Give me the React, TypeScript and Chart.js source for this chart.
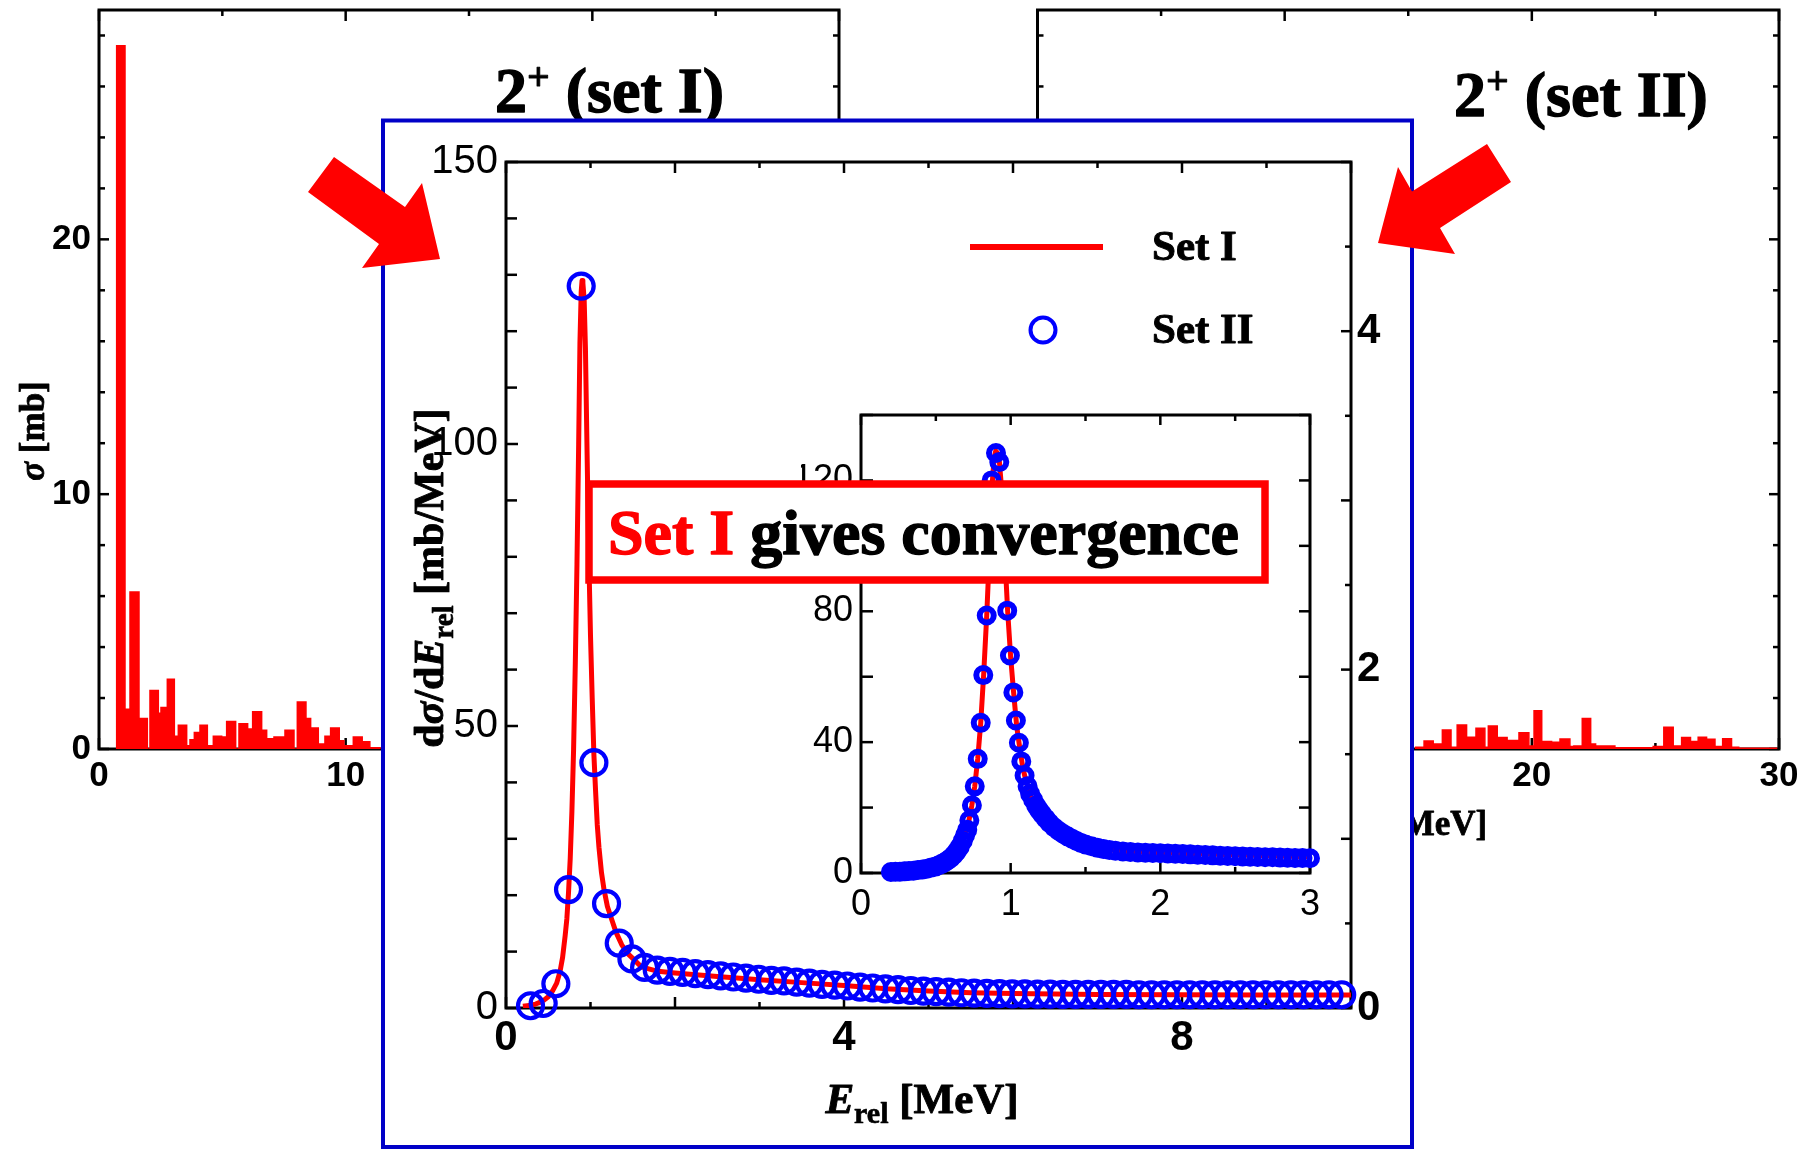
import React, { useEffect, useRef } from 'react';
import { Chart, registerables } from 'chart.js';

Chart.register(...registerables);

const PAGE_W = 1802;
const PAGE_H = 1149;

const RED = '#ff0000';
const BLUE = '#0000ff';
const FRAME_BLUE = '#0000c8';
const SANS = '"Liberation Sans", Arial, sans-serif';
const SERIF = '"Liberation Serif", "Times New Roman", serif';

// ---- σ per continuum bin (edges in MeV, σ in mb) ----
const setIBinEdges = [
  0.716, 1.054, 1.257, 1.621, 1.959, 2.067, 2.405, 2.513, 2.77, 3.054,
  3.216, 3.554, 3.689, 3.865, 4.094, 4.392, 4.635, 4.973, 5.175, 5.54,
  5.675, 6.026, 6.229, 6.594, 6.797, 7.094, 7.54, 7.905, 8.04, 8.39,
  8.58, 8.89, 9.16, 9.39, 9.74, 9.93, 10.31, 10.67, 10.98, 11.39,
];
const setISigma = [
  27.6, 1.56, 6.16, 1.2, 0.0, 2.3, 1.4, 1.63, 2.74, 0.5,
  0.93, 0.13, 0.36, 0.65, 0.93, 0.13, 0.5, 0.47, 1.08, 0.0,
  0.99, 0.78, 1.46, 0.74, 0.4, 0.47, 0.74, 0.0, 1.84, 1.2,
  0.82, 0.2, 0.5, 0.82, 0.32, 0.13, 0.47, 0.28, 0.05,
];
const setIIBinEdges = [
  15.3, 15.64, 16.01, 16.38, 16.73, 16.98, 17.36, 17.74, 18.1, 18.24,
  18.6, 19.0, 19.48, 19.88, 20.09, 20.4, 20.8, 21.14, 21.54, 21.7,
  22.04, 22.38, 22.58, 23.36, 24.17, 24.91, 25.34, 25.72, 26.06, 26.42,
  26.73, 27.07, 27.41, 27.72, 28.08, 28.37, 29.9,
];
const setIISigma = [
  0.07, 0.31, 0.2, 0.75, 0.07, 0.94, 0.46, 0.81, 0.07, 0.9,
  0.45, 0.33, 0.64, 0.12, 1.5, 0.29, 0.26, 0.39, 0.1, 0.12,
  1.2, 0.2, 0.12, 0.05, 0.05, 0.1, 0.85, 0.12, 0.45, 0.29,
  0.46, 0.38, 0.1, 0.4, 0.07, 0.03,
];

// ---- dσ/dE_rel [mb/MeV] ----
const setICurveE = [
  0.2, 0.25, 0.3, 0.35, 0.4, 0.45, 0.5, 0.55, 0.6, 0.64,
  0.67, 0.7, 0.72, 0.74, 0.76, 0.78, 0.8, 0.82, 0.84, 0.86,
  0.875, 0.89, 0.9, 0.91, 0.925, 0.94, 0.96, 0.98, 1.0, 1.02,
  1.04, 1.06, 1.08, 1.1, 1.13, 1.16, 1.2, 1.26, 1.3, 1.37,
  1.45, 1.5, 1.6, 1.8, 2.0, 2.5, 3.0, 3.5, 4.0, 4.5,
  5.0, 5.5, 6.0, 7.0, 8.0, 9.0, 10.0,
];
const setICurve = [
  0.3, 0.4, 0.5, 0.7, 1.0, 1.4, 2.0, 3.0, 4.4, 6.5,
  9.0, 12.8, 15.8, 20.5, 26.5, 34.9, 45.9, 61.0, 78.7, 100,
  118, 127, 129, 128.5, 125.6, 117, 98, 80, 66, 55,
  45, 38.5, 32.5, 28.5, 24, 21, 18, 15.3, 13.5, 11.2,
  9.5, 8.8, 7.3, 6.5, 6.2, 5.6, 5.0, 4.5, 4.0, 3.4,
  3.0, 2.7, 2.55, 2.4, 2.35, 2.3, 2.3,
];
const setIIE = [
  0.29, 0.44, 0.59, 0.74, 0.89, 1.04, 1.19, 1.34, 1.49, 1.64,
  1.79, 1.94, 2.09, 2.24, 2.39, 2.54, 2.69, 2.84, 2.99, 3.14,
  3.29, 3.44, 3.59, 3.74, 3.89, 4.04, 4.19, 4.34, 4.49, 4.64,
  4.79, 4.94, 5.09, 5.24, 5.39, 5.54, 5.69, 5.84, 5.99, 6.14,
  6.29, 6.44, 6.59, 6.74, 6.89, 7.04, 7.19, 7.34, 7.49, 7.64,
  7.79, 7.94, 8.09, 8.24, 8.39, 8.54, 8.69, 8.84, 8.99, 9.14,
  9.29, 9.44, 9.59, 9.74, 9.89,
];
const setII = [
  0.4, 0.8, 4.3, 21, 128, 43.5, 18.5, 11.5, 8.7, 7.2,
  6.7, 6.5, 6.3, 6.1, 5.9, 5.7, 5.5, 5.3, 5.1, 4.9,
  4.8, 4.6, 4.4, 4.2, 4.05, 3.9, 3.7, 3.55, 3.4, 3.25,
  3.1, 3.0, 2.9, 2.8, 2.7, 2.65, 2.6, 2.55, 2.5, 2.5,
  2.45, 2.45, 2.4, 2.4, 2.4, 2.4, 2.4, 2.4, 2.35, 2.35,
  2.35, 2.35, 2.35, 2.35, 2.35, 2.35, 2.35, 2.35, 2.35, 2.35,
  2.35, 2.35, 2.35, 2.35, 2.35,
];
const setIIFineE = [
  0.2, 0.23, 0.26, 0.29, 0.32, 0.35, 0.38, 0.41, 0.44, 0.47,
  0.5, 0.52, 0.54, 0.56, 0.58, 0.6, 0.62, 0.64, 0.66, 0.68,
  0.695, 0.71, 0.724, 0.741, 0.76, 0.78, 0.8, 0.817, 0.84, 0.86,
  0.873, 0.902, 0.924, 0.95, 0.977, 0.995, 1.018, 1.035, 1.055, 1.071,
  1.093, 1.113, 1.13, 1.15, 1.17, 1.19, 1.21, 1.235, 1.26, 1.29,
  1.32, 1.35, 1.38, 1.41, 1.44, 1.47, 1.5, 1.54, 1.58, 1.62,
  1.66, 1.7, 1.75, 1.8, 1.85, 1.9, 1.95, 2.0, 2.05, 2.1,
  2.15, 2.2, 2.25, 2.3, 2.35, 2.4, 2.45, 2.5, 2.55, 2.6,
  2.65, 2.7, 2.75, 2.8, 2.85, 2.9, 2.95, 3.0,
];
const setIIFine = [
  0.3, 0.35, 0.4, 0.5, 0.6, 0.7, 0.9, 1.1, 1.3, 1.7,
  2.0, 2.4, 2.8, 3.3, 3.9, 4.6, 5.5, 6.6, 8.0, 9.8,
  11.5, 13.2, 16.1, 20.7, 26.5, 34.9, 45.9, 60.5, 78.7, 98,
  120, 128.4, 125.6, 106, 80.2, 66.5, 55.2, 46.6, 39.8, 34.1,
  29.8, 26.5, 24.2, 22.4, 20.6, 19.2, 18.0, 16.6, 15.3, 14.0,
  12.9, 12.0, 11.2, 10.5, 9.8, 9.2, 8.7, 8.2, 7.7, 7.3,
  7.0, 6.8, 6.6, 6.4, 6.3, 6.2, 6.1, 6.05, 5.95, 5.9,
  5.8, 5.7, 5.6, 5.5, 5.4, 5.3, 5.2, 5.15, 5.05, 5.0,
  4.9, 4.85, 4.8, 4.7, 4.65, 4.6, 4.55, 4.5,
];

// ---- tick positions and the ticks that carry a label ----
const panelXTicks = [0, 5, 10, 15, 20, 25, 30];
const panelXLabels = [0, 10, 20, 30];
const panelYTicks = [0, 2, 4, 6, 8, 10, 12, 14, 16, 18, 20, 22, 24, 26, 28];
const panelYLabels = [0, 10, 20];
const mainXTicks = [0, 1, 2, 3, 4, 5, 6, 7, 8, 9, 10];
const mainXMajor = [0, 2, 4, 6, 8, 10];
const mainXLabels = [0, 4, 8];
const mainYTicks = [0, 10, 20, 30, 40, 50, 60, 70, 80, 90, 100, 110, 120, 130, 140, 150];
const mainYLabels = [0, 50, 100, 150];
const mainY2Ticks = [0, 0.5, 1, 1.5, 2, 2.5, 3, 3.5, 4, 4.5, 5];
const mainY2Major = [0, 1, 2, 3, 4, 5];
const mainY2Labels = [0, 2, 4];
const insetXTicks = [0, 0.5, 1, 1.5, 2, 2.5, 3];
const insetXLabels = [0, 1, 2, 3];
const insetYTicks = [0, 20, 40, 60, 80, 100, 120, 140];
const insetYLabels = [0, 40, 80, 120];

// plot frames on the page
type Area = { l: number; t: number; r: number; b: number };
const LEFT_AREA: Area = { l: 99, t: 10, r: 839, b: 749 };
const RIGHT_AREA: Area = { l: 1037.5, t: 10, r: 1779, b: 749 };
const MAIN_AREA: Area = { l: 506, t: 162, r: 1351, b: 1008 };
const INSET_AREA: Area = { l: 861, t: 415, r: 1310, b: 873 };

type Pt = { x: number; y: number };
const pairs = (xs: number[], ys: number[]): Pt[] => xs.map((x, i) => ({ x, y: ys[i] }));

function histogramPoints(edges: number[], values: number[]): Pt[] {
  const pts: Pt[] = [{ x: edges[0], y: 0 }];
  values.forEach((v, i) => pts.push({ x: edges[i + 1], y: v }));
  pts.push({ x: edges[edges.length - 1], y: 0 });
  return pts;
}

type Seg = { t: string; size: number; italic?: boolean; color?: string; dy?: number };
const segFont = (s: Seg) => `${s.italic ? 'italic ' : ''}bold ${s.size}px ${SERIF}`;

function richWidth(ctx: CanvasRenderingContext2D, segs: Seg[]) {
  let w = 0;
  for (const s of segs) {
    ctx.font = segFont(s);
    w += ctx.measureText(s.t).width;
  }
  return w;
}

// bold serif text in runs (italic symbols, subscripts, superscripts), slightly emboldened
function drawRich(
  ctx: CanvasRenderingContext2D,
  segs: Seg[],
  x: number,
  y: number,
  align: 'left' | 'center',
  angle = 0,
) {
  ctx.save();
  ctx.translate(x, y);
  ctx.rotate(angle);
  ctx.textBaseline = 'alphabetic';
  ctx.textAlign = 'left';
  ctx.lineJoin = 'round';
  let cx = align === 'center' ? -richWidth(ctx, segs) / 2 : 0;
  for (const s of segs) {
    ctx.font = segFont(s);
    const c = s.color || '#000';
    ctx.fillStyle = c;
    ctx.strokeStyle = c;
    ctx.lineWidth = s.size * 0.022;
    ctx.fillText(s.t, cx, s.dy || 0);
    ctx.strokeText(s.t, cx, s.dy || 0);
    cx += ctx.measureText(s.t).width;
  }
  ctx.restore();
}

type TickSide = {
  scale: string;
  edge: 'left' | 'right' | 'top' | 'bottom';
  major: number[];
  majorLen: number;
  minorLen: number;
};

// frame box plus inward-pointing tick marks on every side
function frameAndTicks(sides: TickSide[], frameWidth: number, tickWidth: number) {
  return {
    id: 'frameAndTicks',
    beforeDatasetsDraw(chart: any) {
      const { ctx, chartArea: a } = chart;
      ctx.save();
      ctx.strokeStyle = '#000';
      ctx.lineCap = 'butt';
      ctx.lineWidth = tickWidth;
      for (const s of sides) {
        const sc = chart.scales[s.scale];
        for (const t of sc.ticks) {
          const p = sc.getPixelForValue(t.value);
          const len = s.major.some((m) => Math.abs(m - t.value) < 1e-9) ? s.majorLen : s.minorLen;
          ctx.beginPath();
          if (s.edge === 'left') {
            ctx.moveTo(a.left, p);
            ctx.lineTo(a.left + len, p);
          } else if (s.edge === 'right') {
            ctx.moveTo(a.right, p);
            ctx.lineTo(a.right - len, p);
          } else if (s.edge === 'top') {
            ctx.moveTo(p, a.top);
            ctx.lineTo(p, a.top + len);
          } else {
            ctx.moveTo(p, a.bottom);
            ctx.lineTo(p, a.bottom - len);
          }
          ctx.stroke();
        }
      }
      ctx.lineWidth = frameWidth;
      ctx.strokeRect(a.left, a.top, a.right - a.left, a.bottom - a.top);
      ctx.restore();
    },
  };
}

type AxisOpts = {
  position: 'left' | 'right' | 'bottom';
  min: number;
  max: number;
  ticks: number[];
  labels: number[];
  size: number;
  padding: number;
  font: { family: string; size: number; weight?: string };
};

function axis(o: AxisOpts) {
  const horizontal = o.position === 'bottom';
  return {
    type: 'linear',
    position: o.position,
    min: o.min,
    max: o.max,
    grid: { display: false, drawTicks: false },
    border: { display: false },
    afterBuildTicks: (s: any) => {
      s.ticks = o.ticks.map((v) => ({ value: v }));
    },
    afterFit: (s: any) => {
      if (horizontal) s.height = o.size;
      else s.width = o.size;
      s.paddingLeft = 0;
      s.paddingRight = 0;
      s.paddingTop = 0;
      s.paddingBottom = 0;
    },
    ticks: {
      autoSkip: false,
      maxRotation: 0,
      minRotation: 0,
      padding: o.padding,
      color: '#000',
      font: o.font,
      callback: (v: number) => (o.labels.includes(v) ? String(v) : ''),
    },
  };
}

function layoutFor(area: Area, leftW: number, rightW: number, bottomH: number) {
  return {
    padding: {
      left: area.l - leftW,
      right: PAGE_W - area.r - rightW,
      top: area.t,
      bottom: PAGE_H - area.b - bottomH,
    },
  };
}

const common = {
  responsive: false,
  animation: false,
  devicePixelRatio: 1,
  events: [] as string[],
  plugins: { legend: { display: false }, tooltip: { enabled: false } },
};

function panelConfig(area: Area, edges: number[], values: number[], title: Seg[], titleX: number, titleY: number) {
  const tickFont = { family: SANS, size: 35, weight: 'bold' };
  return {
    type: 'line',
    data: {
      datasets: [
        {
          data: histogramPoints(edges, values),
          stepped: 'after',
          fill: 'origin',
          backgroundColor: RED,
          borderColor: RED,
          borderWidth: 1.5,
          pointRadius: 0,
        },
      ],
    },
    options: {
      ...common,
      layout: layoutFor(area, 90, 0, 60),
      scales: {
        x: axis({ position: 'bottom', min: 0, max: 30, ticks: panelXTicks, labels: panelXLabels, size: 60, padding: 6, font: tickFont }),
        y: axis({ position: 'left', min: 0, max: 29, ticks: panelYTicks, labels: panelYLabels, size: 90, padding: 8, font: tickFont }),
      },
    },
    plugins: [
      frameAndTicks(
        [
          { scale: 'y', edge: 'left', major: [0, 10, 20], majorLen: 10, minorLen: 6 },
          { scale: 'y', edge: 'right', major: [0, 10, 20], majorLen: 10, minorLen: 6 },
          { scale: 'x', edge: 'bottom', major: [0, 10, 20, 30], majorLen: 11, minorLen: 6 },
          { scale: 'x', edge: 'top', major: [0, 10, 20, 30], majorLen: 11, minorLen: 6 },
        ],
        3,
        2.5,
      ),
      {
        id: 'panelText',
        afterDraw(chart: any) {
          const ctx = chart.ctx as CanvasRenderingContext2D;
          const a = chart.chartArea;
          drawRich(ctx, title, titleX, titleY, 'left');
          drawRich(
            ctx,
            [
              { t: 'E', size: 35, italic: true },
              { t: 'rel', size: 25, dy: 8 },
              { t: ' [MeV]', size: 35 },
            ],
            (a.left + a.right) / 2,
            835,
            'center',
          );
          drawRich(
            ctx,
            [
              { t: 'σ', size: 35, italic: true },
              { t: ' [mb]', size: 35 },
            ],
            a.left - 55,
            431,
            'center',
            -Math.PI / 2,
          );
        },
      },
    ],
  };
}

function mainConfig() {
  return {
    type: 'line',
    data: {
      datasets: [
        {
          label: 'Set I',
          data: pairs(setICurveE, setICurve),
          borderColor: RED,
          borderWidth: 5,
          borderJoinStyle: 'round',
          pointRadius: 0,
          order: 2,
        },
        {
          label: 'Set II',
          data: pairs(setIIE, setII),
          showLine: false,
          borderColor: BLUE,
          backgroundColor: 'rgba(0,0,0,0)',
          pointRadius: 12.5,
          pointBorderWidth: 4.2,
          pointBorderColor: BLUE,
          pointBackgroundColor: 'rgba(0,0,0,0)',
          order: 1,
          clip: false,
        },
      ],
    },
    options: {
      ...common,
      layout: layoutFor(MAIN_AREA, 100, 60, 60),
      scales: {
        x: axis({ position: 'bottom', min: 0, max: 10, ticks: mainXTicks, labels: mainXLabels, size: 60, padding: 5, font: { family: SANS, size: 42, weight: 'bold' } }),
        y: axis({ position: 'left', min: 0, max: 150, ticks: mainYTicks, labels: mainYLabels, size: 100, padding: 8, font: { family: SANS, size: 40 } }),
        y2: axis({ position: 'right', min: 0, max: 5, ticks: mainY2Ticks, labels: mainY2Labels, size: 60, padding: 6, font: { family: SANS, size: 42, weight: 'bold' } }),
      },
    },
    plugins: [
      {
        id: 'blueFrame',
        beforeDraw(chart: any) {
          const ctx = chart.ctx as CanvasRenderingContext2D;
          ctx.save();
          ctx.fillStyle = '#fff';
          ctx.fillRect(383, 120.5, 1029, 1026.5);
          ctx.strokeStyle = FRAME_BLUE;
          ctx.lineWidth = 4;
          ctx.strokeRect(383, 120.5, 1029, 1026.5);
          ctx.restore();
        },
      },
      frameAndTicks(
        [
          { scale: 'y', edge: 'left', major: mainYLabels, majorLen: 12, minorLen: 11 },
          { scale: 'y2', edge: 'right', major: mainY2Major, majorLen: 10, minorLen: 6 },
          { scale: 'x', edge: 'bottom', major: mainXMajor, majorLen: 11, minorLen: 6 },
          { scale: 'x', edge: 'top', major: mainXMajor, majorLen: 11, minorLen: 6 },
        ],
        3,
        2.5,
      ),
      {
        id: 'mainText',
        afterDraw(chart: any) {
          const ctx = chart.ctx as CanvasRenderingContext2D;
          // legend
          ctx.save();
          ctx.strokeStyle = RED;
          ctx.lineWidth = 6;
          ctx.beginPath();
          ctx.moveTo(970, 247);
          ctx.lineTo(1103, 247);
          ctx.stroke();
          ctx.strokeStyle = BLUE;
          ctx.lineWidth = 4;
          ctx.beginPath();
          ctx.arc(1043, 330, 12.5, 0, Math.PI * 2);
          ctx.stroke();
          ctx.restore();
          drawRich(ctx, [{ t: 'Set I', size: 43 }], 1152, 260, 'left');
          drawRich(ctx, [{ t: 'Set II', size: 43 }], 1152, 343, 'left');
          // axis titles
          drawRich(
            ctx,
            [
              { t: 'E', size: 43, italic: true },
              { t: 'rel', size: 30, dy: 10 },
              { t: ' [MeV]', size: 43 },
            ],
            922,
            1113,
            'center',
          );
          drawRich(
            ctx,
            [
              { t: 'd', size: 42 },
              { t: 'σ', size: 42, italic: true },
              { t: '/d', size: 42 },
              { t: 'E', size: 42, italic: true },
              { t: 'rel', size: 29, dy: 10 },
              { t: ' [mb/MeV]', size: 42 },
            ],
            443,
            578,
            'center',
            -Math.PI / 2,
          );
        },
      },
    ],
  };
}

function insetConfig() {
  return {
    type: 'line',
    data: {
      datasets: [
        {
          label: 'Set I',
          data: pairs(setICurveE, setICurve),
          borderColor: RED,
          borderWidth: 5,
          borderJoinStyle: 'round',
          pointRadius: 0,
          order: 2,
        },
        {
          label: 'Set II',
          data: pairs(setIIFineE, setIIFine),
          showLine: false,
          borderColor: BLUE,
          backgroundColor: 'rgba(0,0,0,0)',
          pointRadius: 7,
          pointBorderWidth: 6,
          pointBorderColor: BLUE,
          pointBackgroundColor: 'rgba(0,0,0,0)',
          order: 1,
          clip: false,
        },
      ],
    },
    options: {
      ...common,
      layout: layoutFor(INSET_AREA, 60, 0, 50),
      scales: {
        x: axis({ position: 'bottom', min: 0, max: 3, ticks: insetXTicks, labels: insetXLabels, size: 50, padding: 10, font: { family: SANS, size: 36 } }),
        y: axis({ position: 'left', min: 0, max: 140, ticks: insetYTicks, labels: insetYLabels, size: 60, padding: 8, font: { family: SANS, size: 36 } }),
      },
    },
    plugins: [
      {
        id: 'insetBg',
        beforeDatasetsDraw(chart: any) {
          const { ctx, chartArea: a } = chart;
          ctx.save();
          ctx.fillStyle = '#fff';
          ctx.fillRect(a.left, a.top, a.right - a.left, a.bottom - a.top);
          ctx.restore();
        },
      },
      frameAndTicks(
        [
          { scale: 'y', edge: 'left', major: insetYTicks, majorLen: 12, minorLen: 12 },
          { scale: 'y', edge: 'right', major: insetYTicks, majorLen: 11, minorLen: 11 },
          { scale: 'x', edge: 'bottom', major: insetXLabels, majorLen: 10, minorLen: 6 },
          { scale: 'x', edge: 'top', major: insetXLabels, majorLen: 10, minorLen: 6 },
        ],
        3,
        2.5,
      ),
      {
        id: 'callouts',
        afterDraw(chart: any) {
          const ctx = chart.ctx as CanvasRenderingContext2D;
          ctx.save();
          // statement box
          ctx.fillStyle = '#fff';
          ctx.fillRect(589, 484, 676, 96);
          ctx.strokeStyle = RED;
          ctx.lineWidth = 7.5;
          ctx.strokeRect(589, 484, 676, 96);
          // arrows pointing at the comparison panel
          const arrows = [
            [[334, 157], [308, 192], [379, 244], [362, 268], [440, 259], [422, 183], [405, 207]],
            [[1487, 144], [1511, 182], [1440, 228], [1455, 254], [1378, 243], [1398, 167], [1412, 191.5]],
          ];
          ctx.fillStyle = RED;
          for (const poly of arrows) {
            ctx.beginPath();
            poly.forEach(([px, py], i) => (i === 0 ? ctx.moveTo(px, py) : ctx.lineTo(px, py)));
            ctx.closePath();
            ctx.fill();
          }
          ctx.restore();
          drawRich(
            ctx,
            [
              { t: 'Set I ', size: 64, color: RED },
              { t: 'gives convergence', size: 64 },
            ],
            608,
            554,
            'left',
          );
        },
      },
    ],
  };
}

export default function App() {
  const leftRef = useRef<HTMLCanvasElement>(null);
  const rightRef = useRef<HTMLCanvasElement>(null);
  const mainRef = useRef<HTMLCanvasElement>(null);
  const insetRef = useRef<HTMLCanvasElement>(null);

  useEffect(() => {
    const prevMargin = document.body.style.margin;
    document.body.style.margin = '0';
    const configs: any[] = [
      panelConfig(
        LEFT_AREA,
        setIBinEdges,
        setISigma,
        [
          { t: '2', size: 64 },
          { t: '+', size: 40, dy: -22 },
          { t: ' (set I)', size: 64 },
        ],
        495,
        112,
      ),
      panelConfig(
        RIGHT_AREA,
        setIIBinEdges,
        setIISigma,
        [
          { t: '2', size: 64 },
          { t: '+', size: 40, dy: -22 },
          { t: ' (set II)', size: 64 },
        ],
        1454,
        116,
      ),
      mainConfig(),
      insetConfig(),
    ];
    const canvases = [leftRef.current, rightRef.current, mainRef.current, insetRef.current];
    const charts = canvases.map((c, i) => new Chart(c as HTMLCanvasElement, configs[i]));
    return () => {
      charts.forEach((c) => c.destroy());
      document.body.style.margin = prevMargin;
    };
  }, []);

  const canvasStyle: React.CSSProperties = { position: 'absolute', left: 0, top: 0 };
  return (
    <div style={{ position: 'relative', width: PAGE_W, height: PAGE_H, overflow: 'hidden', background: '#fff' }}>
      <canvas ref={leftRef} width={PAGE_W} height={PAGE_H} style={canvasStyle} />
      <canvas ref={rightRef} width={PAGE_W} height={PAGE_H} style={canvasStyle} />
      <canvas ref={mainRef} width={PAGE_W} height={PAGE_H} style={canvasStyle} />
      <canvas ref={insetRef} width={PAGE_W} height={PAGE_H} style={canvasStyle} />
    </div>
  );
}
